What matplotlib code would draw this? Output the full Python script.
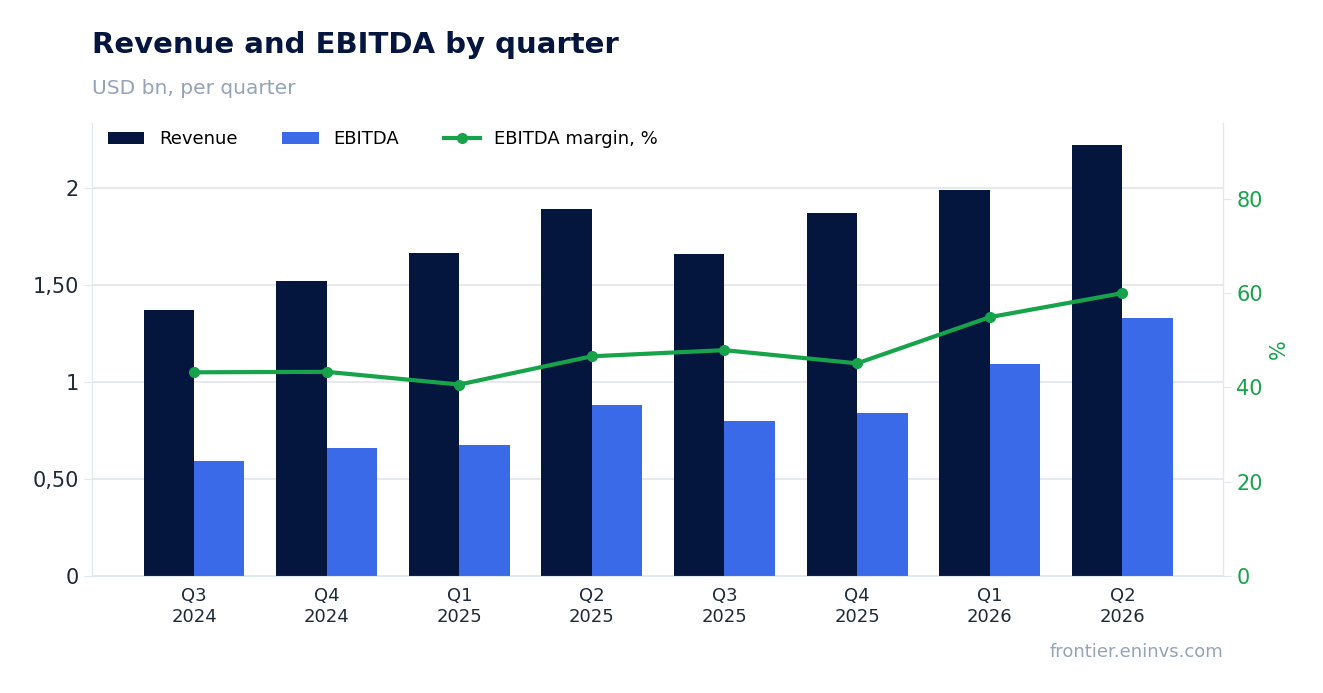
import matplotlib.pyplot as plt
import numpy as np
from matplotlib.ticker import FuncFormatter

quarters = ['Q3\n2024', 'Q4\n2024', 'Q1\n2025', 'Q2\n2025', 'Q3\n2025', 'Q4\n2025', 'Q1\n2026', 'Q2\n2026']
revenue = [1.37, 1.52, 1.665, 1.89, 1.66, 1.87, 1.99, 2.22]
ebitda = [0.59, 0.66, 0.675, 0.88, 0.80, 0.84, 1.09, 1.33]
margin = [43.2, 43.3, 40.6, 46.6, 47.9, 45.1, 54.9, 60.0]

navy = '#04153e'
blue = '#3a6ae8'
green = '#16a34a'
light = '#e2e6ee'

fig = plt.figure(figsize=(13.23, 6.93), dpi=100)
ax = fig.add_axes([0.0695, 0.169, 0.855, 0.6535])
x = np.arange(len(quarters))
w = 0.38
ax.bar(x - w / 2, revenue, w, color=navy, label='Revenue', zorder=2)
ax.bar(x + w / 2, ebitda, w, color=blue, label='EBITDA', zorder=2)
ax.set_xlim(-0.77, 7.76)
ax.set_ylim(0, 2.335)
ax.set_yticks([0, 0.5, 1, 1.5, 2])

def fmt(v, pos):
    if abs(v - round(v)) < 1e-9:
        return str(int(round(v)))
    return f'{v:.2f}'.replace('.', ',')

ax.yaxis.set_major_formatter(FuncFormatter(fmt))
ax.set_xticks(x)
ax.set_xticklabels(quarters, fontsize=13, color='#1f2937')
ax.tick_params(axis='y', labelsize=15, colors='#1f2937', length=6, color=light)
ax.tick_params(axis='x', length=0, pad=8)
ax.grid(axis='y', color=light, linewidth=1.2, zorder=0)
for s in ['top']:
    ax.spines[s].set_visible(False)
for s in ['left', 'right', 'bottom']:
    ax.spines[s].set_color(light)

ax2 = ax.twinx()
ax2.plot(x, margin, color=green, linewidth=3, marker='o', markersize=7, label='EBITDA margin, %', zorder=3)
ax2.set_ylim(0, 96.1)
ax2.set_yticks([0, 20, 40, 60, 80])
ax2.tick_params(axis='y', labelsize=15, colors=green, length=6, color=light)
ax2.set_ylabel('%', color=green, fontsize=15)
for s in ['top', 'left', 'bottom']:
    ax2.spines[s].set_visible(False)
ax2.spines['right'].set_color(light)

h1, l1 = ax.get_legend_handles_labels()
h2, l2 = ax2.get_legend_handles_labels()
ax.legend(h1 + h2, l1 + l2, loc='upper left', ncol=3, frameon=False, fontsize=13,
          bbox_to_anchor=(0.0, 1.02), columnspacing=2.5)

fig.text(0.0695, 0.935, 'Revenue and EBITDA by quarter', fontsize=21, fontweight='bold', color=navy, va='center')
fig.text(0.0695, 0.873, 'USD bn, per quarter', fontsize=14.5, color='#94a3b8', va='center')
fig.text(0.9244, 0.059, 'frontier.eninvs.com', fontsize=13, color='#94a3b8', ha='right', va='center')

fig.savefig('out.png', dpi=100)
